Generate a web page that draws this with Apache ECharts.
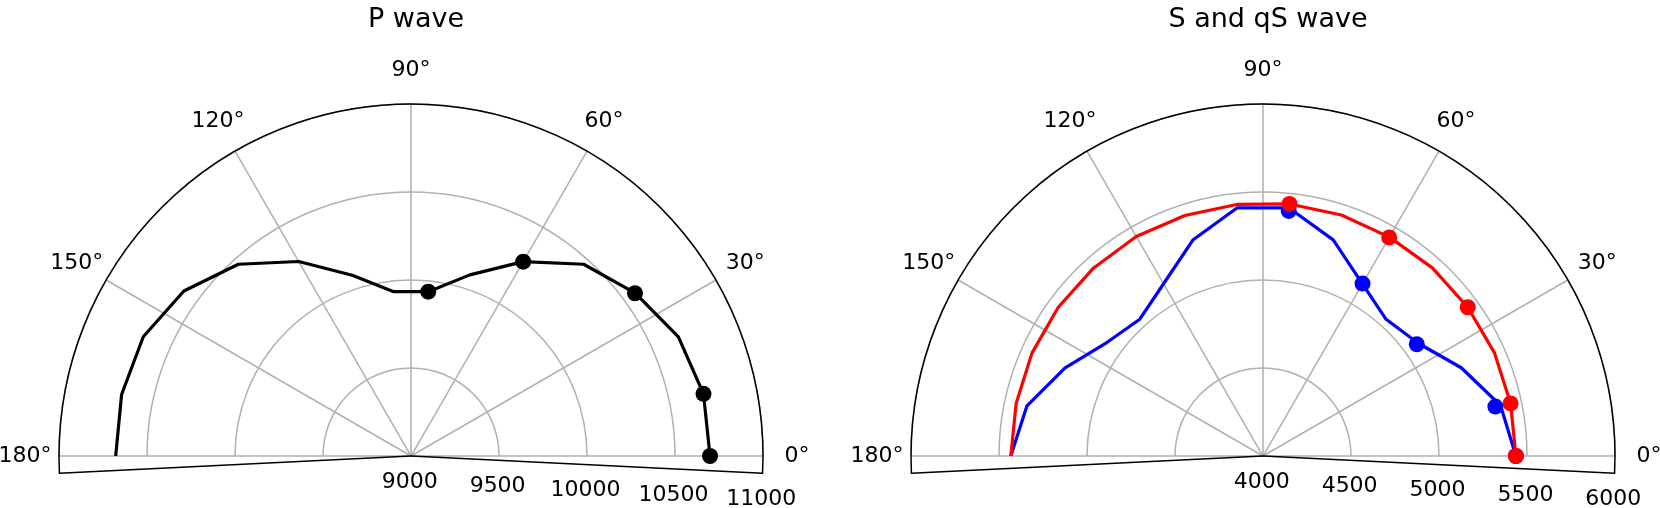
<!DOCTYPE html>
<html>
<head>
<meta charset="utf-8">
<title>P wave / S and qS wave</title>
<script src="https://cdn.jsdelivr.net/npm/echarts@6/dist/echarts.min.js"></script>
<style>
  html, body { margin: 0; padding: 0; background: #fff; }
  #chart { width: 1660px; height: 508px; }
</style>
</head>
<body>
<div id="chart"></div>
<script>
// angles (deg) of the computed curves
const curveAngles = [0, 12, 24, 36, 48, 60, 72, 84, 96, 108, 120, 132, 144, 156, 168, 180];
// angles (deg) of the measured points
const pointAngles = [0, 12, 36, 60, 84];

// P wave velocity (m/s)
const pCurve = [10699, 10699, 10663, 10575, 10466, 10275, 10082, 9939, 9939, 10080, 10276, 10466, 10595, 10665, 10681, 10678];
const pPoints = [10699, 10699, 10573, 10275, 9939];

// S wave (blue)
const sCurve = [5437, 5380, 5233, 5090, 5045, 5130, 5291, 5417, 5417, 5290, 5130, 5046, 5097, 5231, 5371, 5433];
const sPoints = [5437, 5350, 5080, 5131, 5400];

// qS wave (red)
const qsCurve = [5437, 5438, 5440, 5438, 5438, 5436, 5440, 5440, 5437, 5437, 5440, 5438, 5438, 5437, 5434, 5433];
const qsPoints = [5437, 5438, 5438, 5434, 5440];

const angleTicks = [0, 30, 60, 90, 120, 150, 180];
const pRange = [9000, 11000];
const sRange = [4000, 6000];
const radialStep = 500;

const FONT = "DejaVu Sans";
const GRID = "#b0b0b0";
const R = 352;
const CY = 456;
const SKEW = 2.8; // frame goes a little below the 0/180 deg line

const panels = [
  { cx: 411, range: pRange, title: "P wave" },
  { cx: 1263, range: sRange, title: "S and qS wave" }
];

const polar = [];
const angleAxis = [];
const radiusAxis = [];
const title = [];
const series = [];

const hidden = {
  axisLine: { show: false },
  axisTick: { show: false },
  axisLabel: { show: false },
  splitLine: { show: false }
};

panels.forEach((p, k) => {
  const base = k * 4;

  // grid + data
  polar.push({ center: [p.cx, CY], radius: R });
  angleAxis.push({
    polarIndex: base, type: "value", min: 0, max: 180, interval: 30,
    startAngle: 0, endAngle: 180, clockwise: false,
    axisLine: { show: false }, axisTick: { show: false }, axisLabel: { show: false },
    splitLine: { show: true, lineStyle: { color: GRID, width: 1.5 } },
    z: 1
  });
  radiusAxis.push({
    polarIndex: base, type: "value", min: p.range[0], max: p.range[1], interval: radialStep,
    axisLine: { show: false }, axisTick: { show: false }, axisLabel: { show: false },
    splitLine: { show: true, lineStyle: { color: GRID, width: 1.5 } },
    z: 1
  });

  // outer arc + lower right edge, radial tick labels
  polar.push({ center: [p.cx, CY], radius: R });
  angleAxis.push({
    polarIndex: base + 1, type: "value", min: 0, max: 1,
    startAngle: -SKEW, endAngle: 180 + SKEW, clockwise: false,
    axisLine: { show: true, lineStyle: { color: "#000", width: 1.5 } },
    axisTick: { show: false }, axisLabel: { show: false }, splitLine: { show: false },
    z: 5
  });
  radiusAxis.push({
    polarIndex: base + 1, type: "value", min: p.range[0], max: p.range[1], interval: radialStep,
    axisLine: { show: true, lineStyle: { color: "#000", width: 1.5 } },
    axisTick: { show: false }, splitLine: { show: false },
    axisLabel: {
      show: true, fontFamily: FONT, fontSize: 22, color: "#000",
      margin: -26, align: "center", verticalAlign: "middle",
      formatter: v => String(v)
    },
    z: 5
  });

  // lower left edge
  polar.push({ center: [p.cx, CY], radius: R });
  angleAxis.push(Object.assign({ polarIndex: base + 2, type: "value", min: 0, max: 1, startAngle: 180 + SKEW, show: false }, hidden));
  radiusAxis.push({
    polarIndex: base + 2, type: "value", min: 0, max: 1,
    axisLine: { show: true, lineStyle: { color: "#000", width: 1.5 } },
    axisTick: { show: false }, axisLabel: { show: false }, splitLine: { show: false },
    z: 5
  });

  // ring that carries the angle labels
  polar.push({ center: [p.cx, CY], radius: R + 34 });
  angleAxis.push(Object.assign({ polarIndex: base + 3, type: "value", min: 0, max: 180,
    startAngle: 0, endAngle: 180, clockwise: false, show: false }, hidden));
  radiusAxis.push(Object.assign({ polarIndex: base + 3, type: "value", min: 0, max: 1, show: false }, hidden));

  series.push({
    type: "scatter", coordinateSystem: "polar", polarIndex: base + 3,
    symbolSize: 0, silent: true,
    itemStyle: { opacity: 1 },
    data: angleTicks.map(a => [1, a]),
    label: {
      show: true, position: "inside", fontFamily: FONT, fontSize: 22, color: "#000", opacity: 1,
      formatter: d => d.value[1] + "°"
    }
  });

  title.push({
    text: p.title, left: p.cx, top: 1, textAlign: "center",
    textStyle: { fontFamily: FONT, fontSize: 27, fontWeight: "normal", color: "#000" }
  });
});

function curve(vals) {
  return curveAngles.map((a, i) => [vals[i], a]);
}
function points(vals) {
  return pointAngles.map((a, i) => [vals[i], a]);
}

series.push(
  { name: "P", type: "line", coordinateSystem: "polar", polarIndex: 0, data: curve(pCurve),
    showSymbol: false, lineStyle: { color: "#000", width: 3.2 }, z: 3 },
  { name: "P data", type: "scatter", coordinateSystem: "polar", polarIndex: 0, data: points(pPoints),
    symbol: "circle", symbolSize: 16, itemStyle: { color: "#000", opacity: 1 }, z: 4 },
  { name: "S", type: "line", coordinateSystem: "polar", polarIndex: 4, data: curve(sCurve),
    showSymbol: false, lineStyle: { color: "#0000ff", width: 3.2 }, z: 3 },
  { name: "S data", type: "scatter", coordinateSystem: "polar", polarIndex: 4, data: points(sPoints),
    symbol: "circle", symbolSize: 16, itemStyle: { color: "#0000ff", opacity: 1 }, z: 4 },
  { name: "qS", type: "line", coordinateSystem: "polar", polarIndex: 4, data: curve(qsCurve),
    showSymbol: false, lineStyle: { color: "#ff0000", width: 3.2 }, z: 5 },
  { name: "qS data", type: "scatter", coordinateSystem: "polar", polarIndex: 4, data: points(qsPoints),
    symbol: "circle", symbolSize: 16, itemStyle: { color: "#ff0000", opacity: 1 }, z: 6 }
);

const chart = echarts.init(document.getElementById("chart"), null, { renderer: "canvas" });
chart.setOption({
  animation: false,
  backgroundColor: "#fff",
  textStyle: { fontFamily: FONT },
  title: title,
  polar: polar,
  angleAxis: angleAxis,
  radiusAxis: radiusAxis,
  series: series
});
</script>
</body>
</html>
